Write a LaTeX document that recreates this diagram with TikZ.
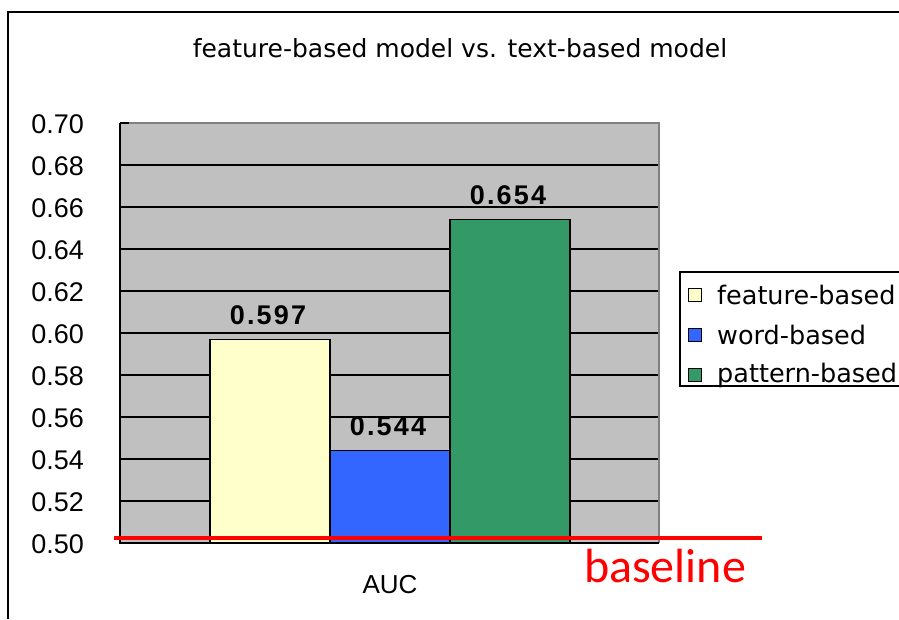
\documentclass[tikz,border=0pt]{standalone}
\usepackage{fontspec}
\setmainfont{Liberation Sans}
\newfontfamily\gothfont{DejaVu Sans}
\newfontfamily\calfont{Carlito}
\newfontfamily\boldlab[LetterSpace=8]{Liberation Sans Bold}
\definecolor{plotgrey}{HTML}{C0C0C0}
\definecolor{edgegrey}{HTML}{808080}
\definecolor{featc}{HTML}{FFFFCC}
\definecolor{wordc}{HTML}{3366FF}
\definecolor{pattc}{HTML}{339966}
\definecolor{basered}{HTML}{FF0000}
\tikzset{
  ticklab/.style={anchor=east, inner sep=0pt, font=\fontsize{27}{30}\selectfont},
  vallab/.style={inner sep=0pt, font=\boldlab\fontsize{27}{30}\selectfont},
  legtext/.style={anchor=west, inner sep=0pt, font=\gothfont\fontsize{25.5}{28}\selectfont},
  legsq/.style={draw=black, line width=1.2pt, minimum size=13pt, inner sep=0pt},
  barbox/.style={draw=black, line width=1.6pt},
  gridln/.style={draw=black, line width=1.4pt},
}
\begin{document}
\begin{tikzpicture}[x=1pt,y=-1pt]
\useasboundingbox (0,0) rectangle (899,619);
\fill[white] (0,0) rectangle (899,619);
% outer frame
\draw[line width=2pt] (8,619) -- (8,12) -- (899,12);
% title
\node[inner sep=0pt, font=\gothfont\fontsize{25}{30}\selectfont] (title) at (460,48) {feature-based model vs. text-based model};
% plot area
\fill[plotgrey] (120,123) rectangle (659,543);
\foreach \k in {1,...,9} {
  \draw[gridln] (120,543-42*\k) -- (659,543-42*\k);
}
\draw[edgegrey, line width=2pt] (120,123) -- (659,123) -- (659,543);
% bars
\draw[barbox, fill=featc] (210,543) rectangle (330,339.3);
\draw[barbox, fill=wordc] (330,543) rectangle (450,450.6);
\draw[barbox, fill=pattc] (450,543) rectangle (570,219.6);
% axes
\draw[line width=1.6pt] (120,123) -- (120,543) -- (659,543);
\foreach \k in {0,...,10} {
  \draw[line width=1.6pt] (120,543-42*\k) -- (129,543-42*\k);
}
% tick labels
\node[ticklab] (t50) at (84,544) {0.50};
\node[ticklab] (t52) at (84,502) {0.52};
\node[ticklab] (t54) at (84,460) {0.54};
\node[ticklab] (t56) at (84,418) {0.56};
\node[ticklab] (t58) at (84,376) {0.58};
\node[ticklab] (t60) at (84,334) {0.60};
\node[ticklab] (t62) at (84,292) {0.62};
\node[ticklab] (t64) at (84,250) {0.64};
\node[ticklab] (t66) at (84,208) {0.66};
\node[ticklab] (t68) at (84,166) {0.68};
\node[ticklab] (t70) at (84,124) {0.70};
% value labels
\node[vallab] (v1) at (268,315) {0.597};
\node[vallab] (v2) at (388,426) {0.544};
\node[vallab] (v3) at (508,195) {0.654};
% x label
\node[inner sep=0pt, font=\fontsize{26}{30}\selectfont] (auc) at (390,585) {AUC};
% baseline
\draw[basered, line width=3.5pt] (114,538) -- (762,538);
\node[anchor=base, inner sep=0pt, text=basered, font=\calfont\fontsize{48}{52}\selectfont] (bl) at (665,582) {baseline};
% legend
\draw[line width=1.6pt] (899,272) -- (680,272) -- (680,386) -- (899,386);
\node[legsq, fill=featc] (s1) at (695,295) {};
\node[legsq, fill=wordc] (s2) at (695,335) {};
\node[legsq, fill=pattc] (s3) at (695,375) {};
\node[legtext] (l1) at (717,295) {feature-based};
\node[legtext] (l2) at (717,335) {word-based};
\node[legtext] (l3) at (717,375) {pattern-based};
\end{tikzpicture}
\end{document}
